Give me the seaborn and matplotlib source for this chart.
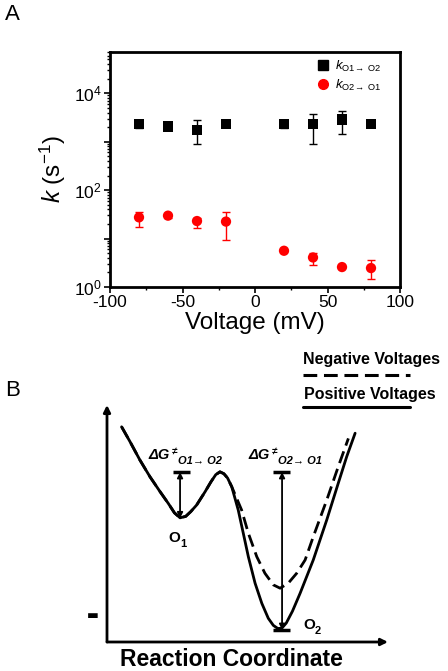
import numpy as np
import pandas as pd
import seaborn as sns
import matplotlib
matplotlib.use("Agg")
import matplotlib.pyplot as plt
from matplotlib.lines import Line2D
from matplotlib.ticker import FixedLocator, FuncFormatter, NullFormatter

# ---------------- data: panel A ----------------
voltage = [-80, -60, -40, -20, 20, 40, 60, 80]
k_o1_o2 = [2340, 2065, 1770, 2340, 2340, 2340, 2880, 2340]
k_o1_o2_low = [1950, 2000, 880, 2150, 1950, 880, 1450, 2340]
k_o1_o2_high = [2700, 2150, 2800, 2550, 2500, 3780, 4390, 2340]
k_o2_o1 = [27.4, 29.7, 23.0, 22.4, 5.6, 4.07, 2.58, 2.46]
k_o2_o1_low = [17.6, 27.0, 16.8, 9.4, 5.6, 2.9, 2.58, 1.46]
k_o2_o1_high = [35.0, 32.0, 26.0, 36.0, 5.6, 5.0, 2.58, 3.6]
series_labels = [r"$k_{\mathrm{O1\!\rightarrow\ O2}}$", r"$k_{\mathrm{O2\!\rightarrow\ O1}}$"]
x_ticks = [-100, -50, 0, 50, 100]
y_ticks = [1, 10, 100, 1000, 10000]

# ---------------- data: panel B (schematic energy profiles) ----------------
coord_positive = [0.52, 0.82, 1.17, 1.53, 1.89, 2.18, 2.40, 2.60, 2.80, 2.98, 3.19, 3.49,
                  3.70, 3.87, 4.02, 4.16, 4.29, 4.44, 4.67, 4.85, 5.03, 5.27, 5.51, 5.74,
                  5.92, 6.08, 6.22, 6.38, 6.60, 6.87, 7.34, 7.82, 8.23, 8.53, 8.83]
energy_positive = [9.08, 8.45, 7.68, 6.97, 6.34, 5.85, 5.45, 5.24, 5.30, 5.50, 5.78, 6.34,
                   6.76, 7.06, 7.18, 7.10, 6.92, 6.55, 5.57, 4.59, 3.60, 2.48, 1.63, 1.00,
                   0.70, 0.57, 0.58, 0.80, 1.30, 2.05, 3.46, 5.15, 6.70, 7.82, 8.81]
coord_negative = [0.52, 0.82, 1.17, 1.53, 1.89, 2.18, 2.40, 2.60, 2.80, 2.98, 3.19, 3.49,
                  3.70, 3.87, 4.02, 4.16, 4.29, 4.44, 4.79, 5.03, 5.33, 5.62, 5.92, 6.16,
                  6.45, 6.75, 7.05, 7.34, 7.82, 8.23, 8.59]
energy_negative = [9.08, 8.45, 7.68, 6.97, 6.34, 5.85, 5.45, 5.24, 5.30, 5.50, 5.78, 6.34,
                   6.76, 7.06, 7.18, 7.10, 6.92, 6.55, 5.57, 4.59, 3.60, 2.90, 2.41, 2.27,
                   2.48, 2.90, 3.46, 4.44, 5.99, 7.40, 8.59]

sns.set_theme(style="ticks")
plt.rcParams["font.family"] = ["Liberation Sans", "DejaVu Sans"]
plt.rcParams["mathtext.fontset"] = "custom"
plt.rcParams["mathtext.rm"] = "Liberation Sans"
plt.rcParams["mathtext.it"] = "Liberation Sans:italic"
plt.rcParams["mathtext.bf"] = "Liberation Sans:bold"
plt.rcParams["axes.unicode_minus"] = False
plt.rcParams["text.color"] = "black"
plt.rcParams["axes.labelcolor"] = "black"
plt.rcParams["xtick.color"] = "black"
plt.rcParams["ytick.color"] = "black"
plt.rcParams["lines.solid_joinstyle"] = "round"
plt.rcParams["lines.dash_joinstyle"] = "round"

W, H = 448, 671
fig = plt.figure(figsize=(W / 100, H / 100), dpi=100)

def fx(px):
    return px / W

def fy(py):
    return 1 - py / H

# ---------------- panel A ----------------
axA = fig.add_axes([fx(110), fy(287), fx(400) - fx(110), fy(52) - fy(287)])
dfA = pd.DataFrame({
    "voltage": voltage * 2,
    "k": k_o1_o2 + k_o2_o1,
    "series": [series_labels[0]] * len(voltage) + [series_labels[1]] * len(voltage),
})
axA.errorbar(voltage, k_o1_o2,
             yerr=[np.array(k_o1_o2) - np.array(k_o1_o2_low), np.array(k_o1_o2_high) - np.array(k_o1_o2)],
             fmt="none", ecolor="black", elinewidth=1.0, capsize=3, capthick=1.0, zorder=2)
axA.errorbar(voltage, k_o2_o1,
             yerr=[np.array(k_o2_o1) - np.array(k_o2_o1_low), np.array(k_o2_o1_high) - np.array(k_o2_o1)],
             fmt="none", ecolor="red", elinewidth=1.0, capsize=3, capthick=1.0, zorder=2)
sns.scatterplot(data=dfA, x="voltage", y="k", hue="series", style="series",
                palette=["black", "red"], markers=["s", "o"], s=[55], linewidth=0,
                ax=axA, legend=False, zorder=3)
axA.set_yscale("log")
axA.set_xlim(-100, 100)
axA.set_ylim(1, 7.1e4)
axA.xaxis.set_major_locator(FixedLocator(x_ticks))
axA.xaxis.set_minor_locator(FixedLocator([-75, -25, 25, 75]))
axA.yaxis.set_major_locator(FixedLocator(y_ticks))
axA.yaxis.set_major_formatter(FuncFormatter(
    lambda v, p: r"$10^{%d}$" % round(np.log10(v)) if round(np.log10(v)) % 2 == 0 else ""))
minors = [m * 10 ** e for e in range(0, 5) for m in range(2, 10)]
axA.yaxis.set_minor_locator(FixedLocator(minors))
axA.yaxis.set_minor_formatter(NullFormatter())
for s in axA.spines.values():
    s.set_linewidth(2.0)
    s.set_color("black")
axA.tick_params(axis="both", which="major", direction="out", length=4, width=1.2,
                labelsize=12.5, colors="black", pad=2)
axA.tick_params(axis="both", which="minor", direction="out", length=2.5, width=1.0)
axA.set_xlabel("Voltage (mV)", fontsize=17.5, labelpad=1)
axA.set_ylabel(r"$k$ (s$^{-1}$)", fontsize=17.5, labelpad=4)
handles = [Line2D([], [], marker="s", color="black", linestyle="none", markersize=6.5),
           Line2D([], [], marker="o", color="red", linestyle="none", markersize=7)]
axA.legend(handles, series_labels, loc="upper left", bbox_to_anchor=(0.69, 1.0),
           frameon=False, fontsize=9.5, handlelength=1.0, handletextpad=0.4,
           borderpad=0, labelspacing=0.3)
fig.text(fx(5), fy(14), "A", fontsize=16, va="center", ha="left")

# ---------------- panel B ----------------
axB = fig.add_axes([fx(107), fy(642), fx(388) - fx(107), fy(405) - fy(642)])
axB.set_xlim(0, 10)
axB.set_ylim(0, 10)
axB.axis("off")
sns.lineplot(x=coord_negative, y=energy_negative, sort=False, estimator=None, ax=axB,
             color="black", linewidth=2.0)
axB.lines[-1].set_dashes((4.5, 2.2))
sns.lineplot(x=coord_positive, y=energy_positive, sort=False, estimator=None, ax=axB,
             color="black", linewidth=2.0)

# axes arrows
axB.annotate("", xy=(0, 10), xytext=(0, 0), annotation_clip=False,
             arrowprops=dict(arrowstyle="-|>", lw=2.0, color="black", mutation_scale=10,
                             shrinkA=0, shrinkB=0))
axB.annotate("", xy=(10, 0), xytext=(0, 0), annotation_clip=False,
             arrowprops=dict(arrowstyle="-|>", lw=2.0, color="black", mutation_scale=10,
                             shrinkA=0, shrinkB=0))

# barrier arrows
for xa, ylo, yhi in [(2.60, 5.22, 7.17), (6.23, 0.51, 7.17)]:
    axB.annotate("", xy=(xa, ylo), xytext=(xa, yhi), annotation_clip=False,
                 arrowprops=dict(arrowstyle="<|-|>", lw=1.3, color="black", mutation_scale=8,
                                 shrinkA=0, shrinkB=0))
axB.plot([2.35, 2.95], [7.17, 7.17], color="black", lw=2.5, solid_capstyle="butt")
axB.plot([5.91, 6.51], [7.17, 7.17], color="black", lw=2.5, solid_capstyle="butt")
axB.plot([5.91, 6.51], [0.51, 0.51], color="black", lw=2.5, solid_capstyle="butt")

bi = dict(fontweight="bold", fontstyle="italic", color="black")
fig.text(fx(148), fy(455), "ΔG", fontsize=10.5, va="center", ha="left", **bi)
fig.text(fx(172), fy(451), "≠", fontsize=7, va="center", ha="left", **bi)
fig.text(fx(178), fy(461), "O1→ O2", fontsize=8, va="center", ha="left", **bi)
fig.text(fx(248), fy(455), "ΔG", fontsize=10.5, va="center", ha="left", **bi)
fig.text(fx(272), fy(451), "≠", fontsize=7, va="center", ha="left", **bi)
fig.text(fx(278), fy(461), "O2→ O1", fontsize=8, va="center", ha="left", **bi)

fig.text(fx(168), fy(538), "O", fontsize=11, fontweight="bold", va="center", ha="left")
fig.text(fx(180), fy(544), "1", fontsize=8, fontweight="bold", va="center", ha="left")
fig.text(fx(303), fy(625), "O", fontsize=11, fontweight="bold", va="center", ha="left")
fig.text(fx(315), fy(631), "2", fontsize=8, fontweight="bold", va="center", ha="left")

fig.text(fx(87), fy(615), "▬", fontsize=9, va="center", ha="left", color="black",
         family=["DejaVu Sans"])

fig.text(fx(231), fy(659), "Reaction Coordinate", fontsize=16.5, fontweight="bold",
         va="center", ha="center")

# legend of panel B
fig.text(fx(303), fy(359), "Negative Voltages", fontsize=11.5, fontweight="bold",
         va="center", ha="left")
fig.text(fx(304), fy(394), "Positive Voltages", fontsize=11.5, fontweight="bold",
         va="center", ha="left")
fig.add_artist(Line2D([fx(303), fx(410)], [fy(375), fy(375)], color="black", lw=2.2,
                      dashes=(4.5, 2.2), transform=fig.transFigure))
fig.add_artist(Line2D([fx(303), fx(410)], [fy(407), fy(407)], color="black", lw=2.2,
                      transform=fig.transFigure))

fig.text(fx(5), fy(390), "B", fontsize=16, va="center", ha="left")

fig.savefig("out.png", dpi=100)
